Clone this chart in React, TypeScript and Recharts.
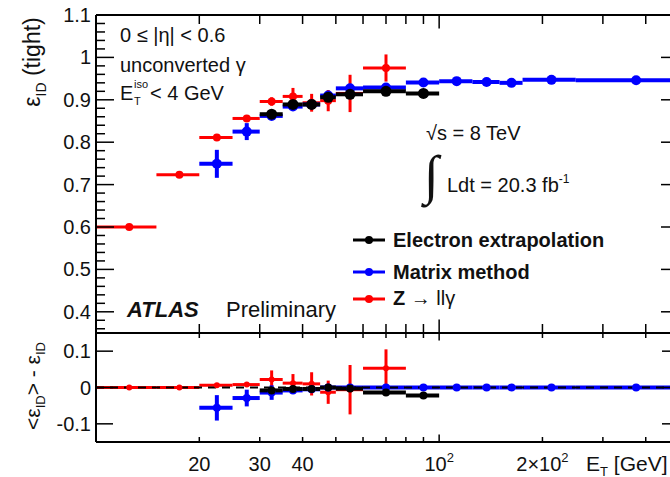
import { ComposedChart, ErrorBar, ReferenceLine, Scatter, XAxis, YAxis } from "recharts";

const FONT = "'Liberation Sans', Arial, Helvetica, sans-serif";

// E_T bins [GeV]
const binLow = [10, 15, 20, 25, 30, 35, 40, 45, 50, 60, 80, 100, 125, 150, 175, 250];
const binHigh = [15, 20, 25, 30, 35, 40, 45, 50, 60, 80, 100, 125, 150, 175, 250, 500];

// tight ID efficiency per bin (null = no measurement in that bin)
const electronEff = [null, null, null, null, 0.866, 0.889, 0.889, 0.906, 0.913, 0.92, 0.915, null, null, null, null, null];
const electronErr = [null, null, null, null, 0.008, 0.006, 0.006, 0.005, 0.005, 0.005, 0.005, null, null, null, null, null];
const matrixEff = [null, null, 0.749, 0.825, 0.862, 0.884, 0.889, 0.91, 0.927, 0.929, 0.941, 0.944, 0.942, 0.94, 0.947, 0.946];
const matrixErr = [null, null, 0.033, 0.02, 0.008, 0.006, 0.006, 0.005, 0.004, 0.004, 0.004, 0.003, 0.003, 0.003, 0.003, 0.003];
const zllgEff = [0.6, 0.723, 0.811, 0.856, 0.896, 0.908, 0.893, 0.898, 0.915, 0.975, null, null, null, null, null, null];
const zllgErr = [0.003, 0.003, 0.004, 0.005, 0.01, 0.02, 0.021, 0.025, 0.044, 0.032, null, null, null, null, null, null];

// difference to the combined efficiency
const electronDiff = [null, null, null, null, -0.008, -0.004, -0.004, 0.0, -0.003, -0.014, -0.022, null, null, null, null, null];
const electronDiffErr = [null, null, null, null, 0.005, 0.004, 0.004, 0.004, 0.004, 0.004, 0.004, null, null, null, null, null];
const matrixDiff = [null, null, -0.056, -0.029, -0.014, -0.008, -0.005, 0.0, 0.0, 0.0, 0.0, 0.0, 0.0, 0.0, 0.0, 0.0];
const matrixDiffErr = [null, null, 0.035, 0.023, 0.02, 0.008, 0.006, 0.005, 0.004, 0.004, 0.003, 0.003, 0.003, 0.003, 0.003, 0.003];
const zllgDiff = [0.0, 0.0, 0.006, 0.008, 0.022, 0.012, 0.01, -0.013, -0.006, 0.053, null, null, null, null, null, null];
const zllgDiffErr = [0.003, 0.003, 0.004, 0.005, 0.025, 0.025, 0.032, 0.032, 0.068, 0.052, null, null, null, null, null, null];

// axes
const xTicks = [20, 30, 40, 50, 60, 70, 80, 90, 100, 200, 300, 400];
const xLabelTicks = [20, 30, 40, 100, 200];
const xLabelText = ["20", "30", "40", "10", "2×10"];
const xLabelPower = ["", "", "", "2", "2"];

const effMajorTicks = [0.4, 0.5, 0.6, 0.7, 0.8, 0.9, 1, 1.1];
const effTickLabels = ["0.4", "0.5", "0.6", "0.7", "0.8", "0.9", "1", "1.1"];
const diffTicks = [-0.1, 0, 0.1];
const diffTickLabels = ["-0.1", "0", "0.1"];

// minor ticks every 0.02
const effTicks = Array.from({ length: 38 }, (_, i) => Math.round((0.36 + i * 0.02) * 100) / 100);

type Series = {
  name: string;
  color: string;
  eff: (number | null)[];
  effErr: (number | null)[];
  diff: (number | null)[];
  diffErr: (number | null)[];
  r: number;
  rSmall: number;
  lw: number;
};

// drawing order: red, blue, black on top
const series: Series[] = [
  { name: "Z → llγ", color: "#ff0000", eff: zllgEff, effErr: zllgErr, diff: zllgDiff, diffErr: zllgDiffErr, r: 4, rSmall: 3, lw: 3 },
  { name: "Matrix method", color: "#0000ff", eff: matrixEff, effErr: matrixErr, diff: matrixDiff, diffErr: matrixDiffErr, r: 5, rSmall: 4, lw: 4 },
  { name: "Electron extrapolation", color: "#000000", eff: electronEff, effErr: electronErr, diff: electronDiff, diffErr: electronDiffErr, r: 5.5, rSmall: 4, lw: 4 },
];
const legendOrder = [2, 1, 0];

function points(values: (number | null)[], errors: (number | null)[]) {
  return values.flatMap((v, i) => {
    if (v === null) return [];
    const half = (binHigh[i] - binLow[i]) / 2;
    return [{ x: binLow[i] + half, y: v, ex: [half, half], ey: errors[i] ?? 0 }];
  });
}

function renderSeries(s: Series, lower: boolean) {
  const data = lower ? points(s.diff, s.diffErr) : points(s.eff, s.effErr);
  const r = lower ? s.rSmall : s.r;
  return (
    <Scatter
      key={s.name}
      name={s.name}
      data={data}
      xAxisId="b"
      yAxisId="l"
      fill={s.color}
      isAnimationActive={false}
      shape={(p: any) => <circle cx={p.cx} cy={p.cy} r={r} fill={s.color} />}
    >
      <ErrorBar dataKey="ex" direction="x" width={0} stroke={s.color} strokeWidth={s.lw} />
      <ErrorBar dataKey="ey" direction="y" width={0} stroke={s.color} strokeWidth={s.lw} />
    </Scatter>
  );
}

const frame = { stroke: "#000", strokeWidth: 2 };

const xTick = (dir: 1 | -1, len: number, labels: boolean) => (props: any) => {
  const { x, y, payload } = props;
  const v = payload.value;
  const l = v === 100 ? len * 1.5 : len;
  const i = labels ? xLabelTicks.indexOf(v) : -1;
  return (
    <g>
      <line x1={x} x2={x} y1={y} y2={y + dir * l} stroke="#000" strokeWidth={1.5} />
      {i >= 0 && (
        <text x={x} y={y + 29} textAnchor="middle" fontSize={20} fontFamily={FONT} fill="#111">
          {xLabelText[i]}
          {xLabelPower[i] && (
            <tspan dy={-9} fontSize={13}>
              {xLabelPower[i]}
            </tspan>
          )}
        </text>
      )}
    </g>
  );
};

const yTick = (dir: 1 | -1, majors: number[], labels: string[] | null, majorLen: number, minorLen: number) => (props: any) => {
  const { x, y, payload } = props;
  const idx = majors.findIndex((t) => Math.abs(t - payload.value) < 1e-6);
  const len = idx >= 0 ? majorLen : minorLen;
  return (
    <g>
      <line x1={x} x2={x + dir * len} y1={y} y2={y} stroke="#000" strokeWidth={1.5} />
      {labels && idx >= 0 && (
        <text x={x - 5} y={y + 7} textAnchor="end" fontSize={20} fontFamily={FONT} fill="#111">
          {labels[idx]}
        </text>
      )}
    </g>
  );
};

export default function App() {
  return (
    <div style={{ position: "absolute", left: 0, top: 0, width: 670, height: 477, overflow: "hidden", background: "#fff" }}>
      {/* efficiency panel */}
      <div style={{ position: "absolute", left: 0, top: 0 }}>
        <ComposedChart width={700} height={345} margin={{ top: 0, right: 0, bottom: 0, left: 0 }}>
          <XAxis xAxisId="b" dataKey="x" type="number" scale="log" domain={[10, 500]} allowDataOverflow ticks={xTicks} interval={0}
            orientation="bottom" height={12} tickSize={0} tickMargin={0} axisLine={frame} tickLine={false} tick={xTick(-1, 9, false)} />
          <XAxis xAxisId="t" dataKey="x" type="number" scale="log" domain={[10, 500]} allowDataOverflow ticks={xTicks} interval={0}
            orientation="top" height={15} tickSize={0} tickMargin={0} axisLine={frame} tickLine={false} tick={xTick(1, 9, false)} />
          <YAxis yAxisId="l" dataKey="y" type="number" domain={[0.35, 1.1]} allowDataOverflow ticks={effTicks} interval={0}
            width={96} tickSize={0} tickMargin={0} axisLine={frame} tickLine={false} tick={yTick(1, effMajorTicks, effTickLabels, 18, 9)} />
          <YAxis yAxisId="r" type="number" orientation="right" domain={[0.35, 1.1]} allowDataOverflow ticks={effTicks} interval={0}
            width={21} tickSize={0} tickMargin={0} axisLine={frame} tickLine={false} tick={yTick(-1, effMajorTicks, null, 18, 9)} />
          {series.map((s) => renderSeries(s, false))}
        </ComposedChart>
      </div>

      {/* difference panel */}
      <div style={{ position: "absolute", left: 0, top: 321 }}>
        <ComposedChart width={700} height={156} margin={{ top: 0, right: 0, bottom: 0, left: 0 }}>
          <XAxis xAxisId="b" dataKey="x" type="number" scale="log" domain={[10, 500]} allowDataOverflow ticks={xTicks} interval={0}
            orientation="bottom" height={35} tickSize={0} tickMargin={0} axisLine={frame} tickLine={false} tick={xTick(-1, 5, true)} />
          <XAxis xAxisId="t" dataKey="x" type="number" scale="log" domain={[10, 500]} allowDataOverflow ticks={xTicks} interval={0}
            orientation="top" height={12} tickSize={0} tickMargin={0} axisLine={frame} tickLine={false} tick={xTick(1, 5, false)} />
          <YAxis yAxisId="l" dataKey="y" type="number" domain={[-0.15, 0.15]} allowDataOverflow ticks={diffTicks} interval={0}
            width={96} tickSize={0} tickMargin={0} axisLine={frame} tickLine={false} tick={yTick(1, diffTicks, diffTickLabels, 17, 9)} />
          <YAxis yAxisId="r" type="number" orientation="right" domain={[-0.15, 0.15]} allowDataOverflow ticks={diffTicks} interval={0}
            width={21} tickSize={0} tickMargin={0} axisLine={frame} tickLine={false} tick={yTick(-1, diffTicks, null, 17, 9)} />
          {series.map((s) => renderSeries(s, true))}
          <ReferenceLine y={0} xAxisId="b" yAxisId="l" stroke="#000" strokeWidth={2} strokeDasharray="8 6" />
        </ComposedChart>
      </div>

      {/* titles, labels and legend */}
      <svg width={670} height={477} style={{ position: "absolute", left: 0, top: 0, pointerEvents: "none" }} fontFamily={FONT} fill="#111">
        <text transform="translate(40,62) rotate(-90)" textAnchor="middle" fontSize={23}>
          ε<tspan dy={6} fontSize={14}>ID</tspan>
          <tspan dy={-6}> (tight)</tspan>
        </text>
        <text transform="translate(40,386) rotate(-90)" textAnchor="middle" fontSize={21}>
          &lt;ε<tspan dy={5} fontSize={13}>ID</tspan>
          <tspan dy={-5}>&gt; - ε</tspan>
          <tspan dy={5} fontSize={13}>ID</tspan>
        </text>
        <text x={586} y={471} fontSize={21}>
          E<tspan dy={5} fontSize={13}>T</tspan>
          <tspan dy={-5}> [GeV]</tspan>
        </text>

        <text x={120} y={42} fontSize={20}>0 ≤ |η| &lt; 0.6</text>
        <text x={120} y={72} fontSize={20}>unconverted γ</text>
        <text x={120} y={100} fontSize={20}>E</text>
        <text x={134} y={88} fontSize={11}>iso</text>
        <text x={134} y={105} fontSize={11}>T</text>
        <text x={150} y={100} fontSize={20}>&lt; 4 GeV</text>

        <text x={426} y={140} fontSize={20}>√s = 8 TeV</text>
        <text x={424} y={193} fontSize={54} fontFamily="'Liberation Serif', serif">∫</text>
        <text x={447} y={192} fontSize={20}>
          Ldt = 20.3 fb<tspan dy={-9} fontSize={12}>-1</tspan>
        </text>

        <text x={127} y={317} fontSize={22} fontWeight="bold" fontStyle="italic">ATLAS</text>
        <text x={226} y={317} fontSize={22}>Preliminary</text>

        {legendOrder.map((idx, row) => {
          const s = series[idx];
          const cy = [240, 272, 299][row];
          const base = [247, 279, 305][row];
          return (
            <g key={s.name}>
              <line x1={353} x2={385} y1={cy} y2={cy} stroke={s.color} strokeWidth={3} />
              <circle cx={369} cy={cy} r={4} fill={s.color} />
              {idx === 0 ? (
                <text x={393} y={base} fontSize={20} fontWeight="bold">
                  Z<tspan fontWeight="normal"> → llγ</tspan>
                </text>
              ) : (
                <text x={393} y={base} fontSize={20} fontWeight="bold">{s.name}</text>
              )}
            </g>
          );
        })}
      </svg>
    </div>
  );
}
